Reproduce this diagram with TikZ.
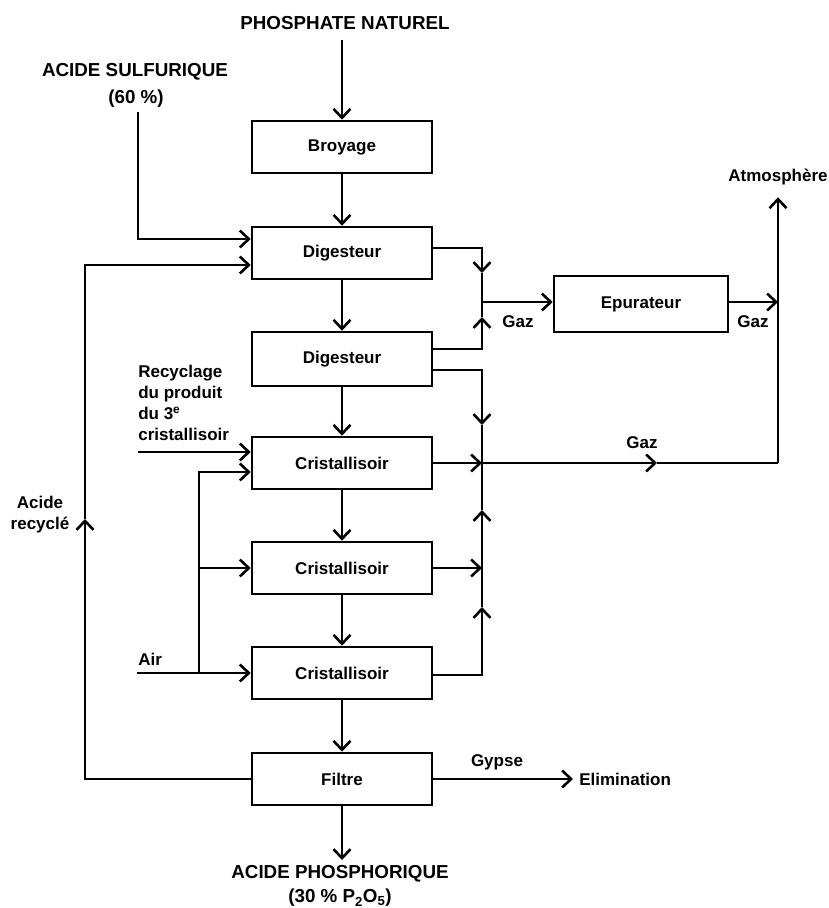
\documentclass[tikz,border=0pt]{standalone}
\usepackage{fontspec}
\setmainfont{Liberation Sans}
\usetikzlibrary{arrows.meta}
\newcommand\boxfont{\fontsize{17}{21}\selectfont\bfseries}
\newcommand\outfont{\fontsize{17}{21}\selectfont\bfseries}
\newcommand\capfont{\fontsize{18.8}{24}\selectfont\bfseries}
\begin{document}
\begin{tikzpicture}[x=1pt,y=-1pt,
  line width=2.6pt,
  box/.style={draw, minimum width=180pt, minimum height=52pt, inner sep=0pt, font=\boxfont},
  lbl/.style={font=\outfont, inner sep=0pt},
  caplbl/.style={font=\capfont, inner sep=0pt},
  arr/.style={-{Straight Barb[length=9pt,width=17pt,line width=2.6pt]}},
]
\useasboundingbox[fill=white] (0,0) rectangle (829,908);

% main column
\node[caplbl] (phos) at (345,23) {PHOSPHATE NATUREL};
\node[box] (broy) at (342,147) {Broyage};
\node[box] (dig1) at (342,253) {Digesteur};
\node[box, minimum height=54pt] (dig2) at (342,359) {Digesteur};
\node[box] (cr1) at (342,463) {Cristallisoir};
\node[box] (cr2) at (342,568) {Cristallisoir};
\node[box] (cr3) at (342,673) {Cristallisoir};
\node[box] (filt) at (342,779) {Filtre};
\node[box, minimum width=174pt, minimum height=56pt] (epur) at (641,304) {Epurateur};

\coordinate (p0) at (342,40);
\draw[arr] (p0) -- (broy.north);
\draw[arr] (broy.south) -- (dig1.north);
\draw[arr] (dig1.south) -- (dig2.north);
\draw[arr] (dig2.south) -- (cr1.north);
\draw[arr] (cr1.south) -- (cr2.north);
\draw[arr] (cr2.south) -- (cr3.north);
\draw[arr] (cr3.south) -- (filt.north);

% sulfuric acid
\node[caplbl] (sulf) at (135,72) {ACIDE SULFURIQUE};
\node[caplbl] (pct) at (136,99) {(60 \%)};
\coordinate (s0) at (138,112);
\draw[arr] (s0) |- ([yshift=14pt]dig1.west);

% recycled acid loop
\coordinate (ar) at (85,519);
\draw[arr] (filt.west) -| (ar);
\draw[arr] (ar) |- ([yshift=-12pt]dig1.west);
\node[lbl, align=center] (acr) at (40,515) {Acide\\recycl\'e};

% gas to scrubber
\coordinate (t1) at (482,273);
\coordinate (j1) at (482,302);
\coordinate (t2) at (482,317);
\draw[arr] ([yshift=5pt]dig1.east) -| (t1);
\draw (t1) -- (j1);
\draw[arr] ([yshift=10pt]dig2.east) -| (t2);
\draw (t2) -- (j1);
\draw[arr] (j1) -- (epur.west |- j1);
\node[lbl] (gaz1) at (518,322) {Gaz};
\coordinate (j2) at (778,302);
\draw[arr] (epur.east |- j1) -- (j2);
\node[lbl] (gaz2) at (753,322) {Gaz};

% atmosphere
\node[lbl] (atm) at (778,177) {Atmosph\`ere};
\coordinate (j3) at (778,463);
\draw[arr, shorten >=11pt] (j3) -- (atm.south);

% gas collector
\coordinate (t3) at (482,425);
\coordinate (j4) at (482,463);
\coordinate (t5) at (482,510);
\coordinate (j5) at (482,568);
\coordinate (t6) at (482,607);
\coordinate (t4) at (657,463);
\draw[arr] ([yshift=-11pt]dig2.east) -| (t3);
\draw (t3) -- (j4);
\draw[arr] (cr1.east) -- (j4);
\draw[arr] (cr2.east) -- (j5);
\draw[arr] ([yshift=-2pt]cr3.east) -| (t6);
\draw (t6) -- (j5);
\draw[arr] (j5) -- (t5);
\draw (t5) -- (j4);
\draw[arr] (j4) -- (t4);
\draw (t4) -- (j3);
\node[lbl] (gaz3) at (642,443) {Gaz};

% recycling of 3rd crystalliser product
\node[lbl, align=left, anchor=north west] (rec) at (137,364)
  {Recyclage\\du produit\\du 3\textsuperscript{e}\\cristallisoir};
\coordinate (r0) at (138,452);
\draw[arr] (r0) -- ([yshift=11pt]cr1.west);

% air
\node[lbl, anchor=south west] (air) at (137,667) {Air};
\coordinate (a0) at (137,673);
\coordinate (a1) at (199,673);
\draw[arr] (a0) -- (cr3.west);
\draw[arr] (a1) |- ([yshift=-9pt]cr1.west);
\draw[arr] (a1 |- cr2.west) -- (cr2.west);

% filter outputs
\node[caplbl] (ap) at (340,874) {ACIDE PHOSPHORIQUE};
\node[caplbl] (ap2) at (340,898) {(30 \% P\textsubscript{2}O\textsubscript{5})};
\coordinate (p1) at (342,860);
\draw[arr] (filt.south) -- (p1);
\node[lbl, anchor=west] (elim) at (578,779) {Elimination};
\draw[arr, shorten >=5pt] (filt.east) -- (elim.west);
\node[lbl] (gyp) at (497,762) {Gypse};
\end{tikzpicture}
\end{document}
